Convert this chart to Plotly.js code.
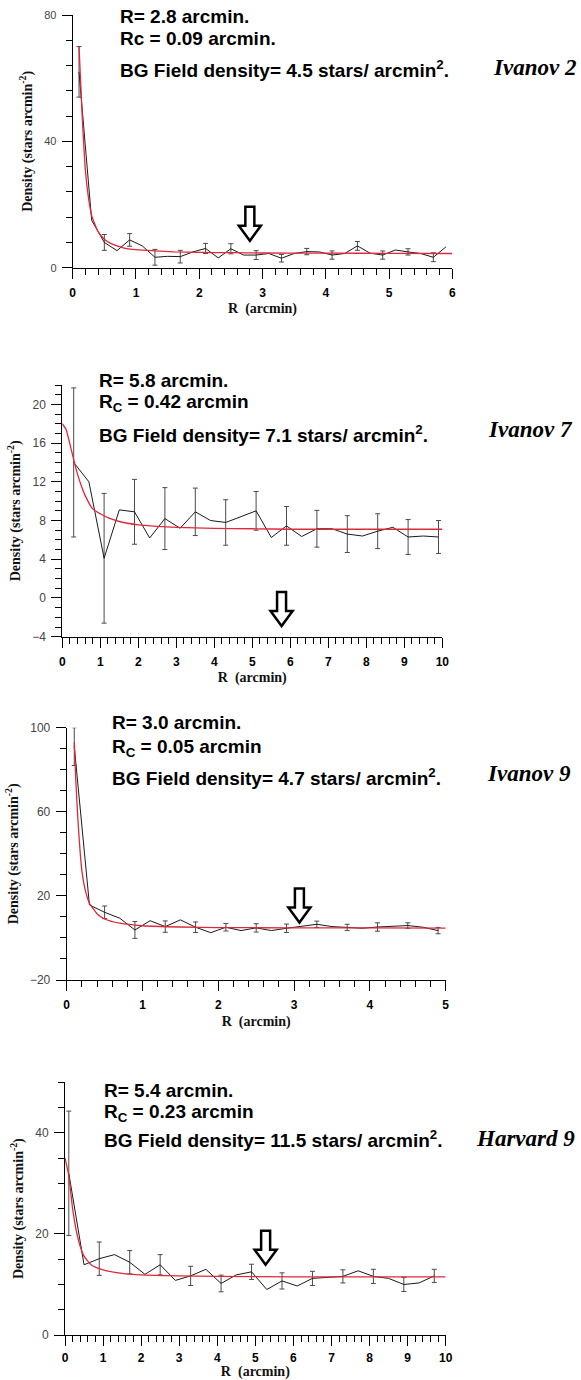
<!DOCTYPE html>
<html>
<head>
<meta charset="utf-8">
<script src="https://cdn.plot.ly/plotly-3.0.1.min.js"></script>
<style>html,body{margin:0;padding:0;background:#fff;}#chart{width:581px;height:1380px;}</style>
</head>
<body>
<div id="chart"></div>
<script>
// ---------------- DATA ----------------
// Ivanov 2
const iv2R    = [0.1,0.3,0.5,0.7,0.9,1.1,1.3,1.5,1.7,1.9,2.1,2.3,2.5,2.7,2.9,3.1,3.3,3.5,3.7,3.9,4.1,4.3,4.5,4.7,4.9,5.1,5.3,5.5,5.7,5.9];
const iv2Dens = [62,15,8,5.4,8.8,6.9,3.3,3.6,3.5,5,6.1,3.1,6,4,4,4.5,3,4.5,5.1,5,4,4.5,6.9,4.6,4,5.6,5,4.5,3.3,6.6];
const iv2Err  = [8,NaN,2.5,NaN,2,NaN,2.5,NaN,2,NaN,1.6,NaN,1.6,NaN,1.4,NaN,1.2,NaN,1.0,NaN,1.3,NaN,1.4,NaN,1.3,NaN,1.0,NaN,1.4,NaN];
const iv2FitR = [0.1,0.15,0.2,0.25,0.3,0.4,0.5,0.6,0.8,1.0,1.3,1.6,2,2.5,3,4,5,6];
const iv2Fit  = [70,48,31,22,16.5,11.5,9,7.7,6.3,5.7,5.3,5.0,4.85,4.75,4.65,4.6,4.55,4.5];

// Ivanov 7
const iv7R    = [0.3,0.7,1.1,1.5,1.9,2.3,2.7,3.1,3.5,3.9,4.3,4.7,5.1,5.5,5.9,6.3,6.7,7.1,7.5,7.9,8.3,8.7,9.1,9.5,9.9];
const iv7Dens = [14,12,4.1,9.1,8.9,6.2,8.2,7.2,8.9,8.0,7.8,8.4,9.0,6.25,7.45,6.35,7.15,7.15,6.6,6.4,6.9,7.3,6.3,6.4,6.3];
const iv7Err  = [7.7,NaN,6.7,NaN,3.35,NaN,3.2,NaN,2.45,NaN,2.35,NaN,2.0,NaN,2.0,NaN,1.9,NaN,1.9,NaN,1.8,NaN,1.8,NaN,1.7];
const iv7FitR = [0,0.1,0.2,0.3,0.4,0.5,0.6,0.8,1.0,1.2,1.5,2,2.5,3,4,5,6,8,10];
const iv7Fit  = [18,17.4,15.9,14.3,12.8,11.6,10.6,9.2,8.7,8.3,7.9,7.55,7.4,7.3,7.2,7.15,7.1,7.1,7.1];

// Ivanov 9
const iv9R    = [0.1,0.3,0.5,0.7,0.9,1.1,1.3,1.5,1.7,1.9,2.1,2.3,2.5,2.7,2.9,3.1,3.3,3.5,3.7,3.9,4.1,4.3,4.5,4.7,4.9];
const iv9Dens = [91,15.7,12.2,9.4,3.8,8.2,5.4,8.6,5.1,2.5,5.1,3.5,4.8,3.5,4.6,5.4,6.5,5.4,5.0,4.6,5.2,5.4,5.9,5.1,3.5];
const iv9Err  = [9,NaN,3,NaN,4,NaN,2.7,NaN,2.5,NaN,1.8,NaN,2,NaN,2,NaN,1.5,NaN,1.5,NaN,2,NaN,1.3,NaN,1.5];
const iv9FitR = [0.1,0.12,0.15,0.2,0.25,0.3,0.4,0.5,0.7,1,1.5,2,3,4,5];
const iv9Fit  = [93,75,55,32,22,16.5,11.5,9.0,7,5.8,5.2,4.95,4.8,4.75,4.7];

// Harvard 9
const hv9R    = [0.1,0.5,0.9,1.3,1.7,2.1,2.5,2.9,3.3,3.7,4.1,4.5,4.9,5.3,5.7,6.1,6.5,6.9,7.3,7.7,8.1,8.5,8.9,9.3,9.7];
const hv9Dens = [32,13.9,15.1,15.9,14.4,12.0,13.9,10.8,11.7,13.0,10.2,11.9,12.5,9.0,10.7,9.7,11.2,11.4,11.6,12.7,11.6,11.2,10.0,10.3,11.7];
const hv9Err  = [12.3,NaN,3.3,NaN,2.3,NaN,2.0,NaN,1.9,NaN,1.65,NaN,1.5,NaN,1.6,NaN,1.4,NaN,1.3,NaN,1.4,NaN,1.4,NaN,1.3];
const hv9FitR = [0,0.1,0.2,0.3,0.4,0.5,0.7,1,1.5,2,3,4,6,8,10];
const hv9Fit  = [35,31.5,25,20.5,17.5,15.6,13.8,12.9,12.2,11.9,11.7,11.6,11.5,11.5,11.5];

// Cluster labels and fitted parameters (text)
const clusterNames = ["Ivanov 2","Ivanov 7","Ivanov 9","Harvard 9"];
const radiusText   = ["R= 2.8 arcmin.","R= 5.8 arcmin.","R= 3.0 arcmin.","R= 5.4 arcmin."];
const coreText     = ["Rc = 0.09 arcmin.","R<sub>C</sub> = 0.42 arcmin","R<sub>C</sub> = 0.05 arcmin","R<sub>C</sub> = 0.23 arcmin"];
const bgText       = ["BG Field density= 4.5 stars/ arcmin<sup>2</sup>.","BG Field density= 7.1 stars/ arcmin<sup>2</sup>.","BG Field density= 4.7 stars/ arcmin<sup>2</sup>.","BG Field density= 11.5 stars/ arcmin<sup>2</sup>."];
// Arrow marking the cluster radius (x in arcmin, tip density)
const arrowR   = [2.8, 5.77, 3.07, 5.27];
const arrowTip = [8.5, -2.9, 7.3, 13.9];

const xTitle = "R  (arcmin)";
const yTitle = "Density (stars arcmin<sup>-2</sup>)";

// ---------------- LAYOUT ----------------
const W = 581, H = 1380;
const fx = p => p / W;
const fy = p => 1 - p / H;

const panels = [
  {r:iv2R, d:iv2Dens, e:iv2Err, fr:iv2FitR, f:iv2Fit,
   box:[72.7,452.3,15,267.7], xr:[0,6], yr:[0,80], ydt:40, y0:0, ymin:8, yfs:11, xso:4, xto:4,
   txt:[118,16.3,38.3,68.8], name:[534,68]},
  {r:iv7R, d:iv7Dens, e:iv7Err, fr:iv7FitR, f:iv7Fit,
   box:[62.3,442.3,385,636.7], xr:[0,10], yr:[-4,22], ydt:4, y0:0, ymin:1, yfs:12, xso:4, xto:4,
   txt:[96.7,380,403,434], name:[530.5,429]},
  {r:iv9R, d:iv9Dens, e:iv9Err, fr:iv9FitR, f:iv9Fit,
   box:[66.7,445.7,727.7,980], xr:[0,5], yr:[-20,100], ydt:40, y0:-20, ymin:10, yfs:12, xso:4, xto:4,
   txt:[110,722.5,748,777.5], name:[529,773]},
  {r:hv9R, d:hv9Dens, e:hv9Err, fr:hv9FitR, f:hv9Fit,
   box:[65,445.7,1082.3,1335], xr:[0,10], yr:[0,50], ydt:20, y0:0, ymin:5, yfs:12, xso:2, xto:5,
   txt:[101.7,1090,1112.5,1139], name:[525,1138]}
];

const traces = [];
const layout = {
  width: W, height: H,
  margin: {l:0, r:0, t:0, b:0},
  paper_bgcolor: '#fff', plot_bgcolor: 'rgba(0,0,0,0)',
  showlegend: false,
  annotations: [], shapes: []
};

const textFont = {family:'Arial, Liberation Sans', size:19, color:'#000', weight:'bold'};
const nameFont = {family:'Times New Roman, Liberation Serif', size:23, color:'#000', weight:'bold', style:'italic'};

panels.forEach((p, i) => {
  const n = i + 1;
  const xa = 'x' + (n === 1 ? '' : n), ya = 'y' + (n === 1 ? '' : n);
  const xk = 'xaxis' + (n === 1 ? '' : n), yk = 'yaxis' + (n === 1 ? '' : n);

  traces.push({
    x: p.r, y: p.d, xaxis: xa, yaxis: ya, type: 'scatter', mode: 'lines',
    line: {color: '#1a1a1a', width: 1},
    error_y: {type: 'data', array: p.e, visible: true, color: '#4a4a4a', thickness: 1, width: 2.5},
    hoverinfo: 'skip'
  });
  traces.push({
    x: p.fr, y: p.f, xaxis: xa, yaxis: ya, type: 'scatter', mode: 'lines',
    line: {color: '#e0283c', width: 1.3, shape: 'spline', smoothing: 0.5},
    hoverinfo: 'skip'
  });

  const [x0, x1, yt, yb] = p.box;
  layout[xk] = {
    domain: [fx(x0), fx(x1)], range: p.xr, anchor: ya,
    showline: true, linecolor: '#000', linewidth: 1,
    showgrid: false, zeroline: false,
    ticks: 'outside', ticklen: 10, tickwidth: 1, tickcolor: '#000',
    dtick: 1, tick0: 0,
    minor: {dtick: 0.2, ticks: 'outside', ticklen: 6, tickwidth: 1, tickcolor: '#000', showgrid: false},
    tickfont: {family: 'Arial, Liberation Sans', size: 12, color: '#000', weight: 'bold'},
    ticklabelstandoff: p.xso,
    title: {text: xTitle, font: {family: 'Times New Roman, Liberation Serif', size: 14, color: '#111', weight: 'bold'}, standoff: p.xto},
    fixedrange: true
  };
  layout[yk] = {
    domain: [fy(yb), fy(yt)], range: p.yr, anchor: xa,
    showline: true, linecolor: '#000', linewidth: 1,
    showgrid: false, zeroline: false,
    ticks: 'outside', ticklen: 10, tickwidth: 1, tickcolor: '#000',
    dtick: p.ydt, tick0: p.y0,
    minor: {dtick: p.ymin, ticks: 'outside', ticklen: 6, tickwidth: 1, tickcolor: '#000', showgrid: false},
    tickfont: {family: 'Arial, Liberation Sans', size: p.yfs, color: '#444'},
    ticklabelstandoff: 3,
    title: {text: yTitle, font: {family: 'Times New Roman, Liberation Serif', size: 14, color: '#111', weight: 'bold'}, standoff: 8},
    fixedrange: true
  };

  const [tx, ty1, ty2, ty3] = p.txt;
  [[radiusText[i], ty1], [coreText[i], ty2], [bgText[i], ty3]].forEach(([t, ty]) => {
    layout.annotations.push({
      xref: 'paper', yref: 'paper', x: fx(tx), y: fy(ty), xanchor: 'left', yanchor: 'middle',
      text: t, showarrow: false, font: textFont
    });
  });
  layout.annotations.push({
    xref: 'paper', yref: 'paper', x: fx(p.name[0]), y: fy(p.name[1]), xanchor: 'center', yanchor: 'middle',
    text: clusterNames[i], showarrow: false, font: nameFont
  });

  layout.shapes.push({
    type: 'path', xref: xa, yref: ya,
    xsizemode: 'pixel', ysizemode: 'pixel',
    xanchor: arrowR[i], yanchor: arrowTip[i],
    path: 'M0,0 L-11,15 L-4.5,15 L-4.5,34 L4.5,34 L4.5,15 L11,15 Z',
    line: {color: '#000', width: 2.5}, fillcolor: '#fff', layer: 'above'
  });
});

Plotly.newPlot('chart', traces, layout, {staticPlot: true, displayModeBar: false});
</script>
</body>
</html>
